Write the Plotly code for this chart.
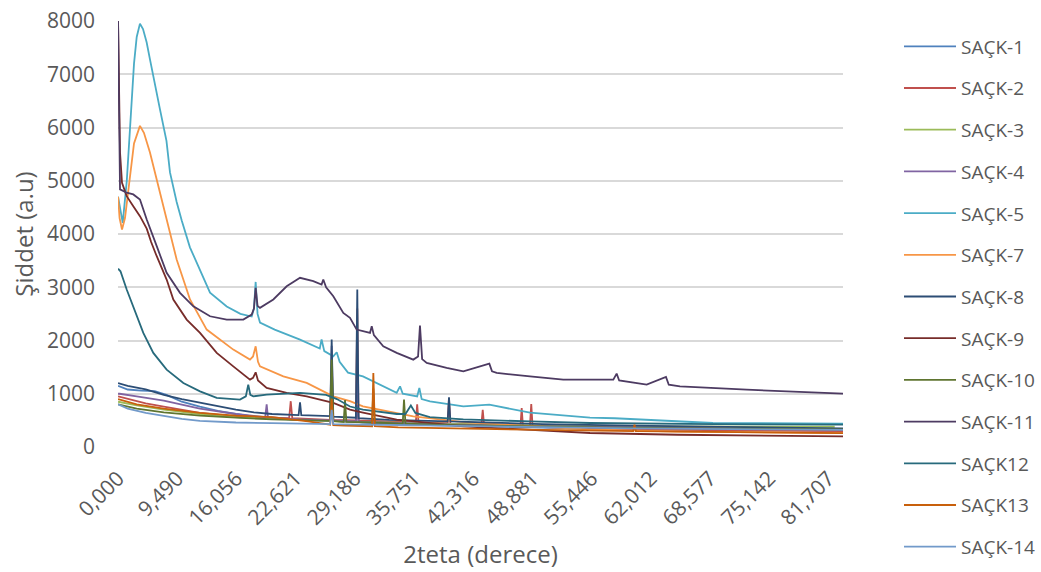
import plotly.graph_objects as go

# 2theta (degrees) / intensity (a.u.) pairs for each sample
sack1_2theta = [2.93, 4.0, 5.5, 7.0, 8.3, 10.0, 12.0, 14.0, 16.0, 18.0, 21.0, 24.0, 26.45, 26.62, 26.8,
                29.3, 29.46, 29.6, 30.0, 35.0, 40.0, 45.0, 50.0, 55.0, 60.0, 70.0, 83.32]
sack1_counts = [1150, 1080, 1060, 1050, 980, 850, 760, 680, 620, 570, 530, 500, 490, 1050, 490,
                470, 850, 470, 460, 420, 400, 380, 360, 345, 335, 320, 310]

sack2_2theta = [2.93, 4.0, 6.0, 8.0, 10.0, 12.0, 15.0, 18.0, 21.9, 22.08, 22.25, 26.45, 26.62, 26.8,
                29.3, 29.46, 29.6, 31.0, 35.95, 36.1, 36.25, 39.48, 39.63, 39.78, 43.22, 43.37, 43.52,
                47.55, 47.69, 47.83, 48.6, 48.75, 48.9, 56.0, 57.4, 65.0, 83.32]
sack2_counts = [950, 900, 820, 760, 700, 640, 590, 560, 540, 860, 540, 510, 1100, 510,
                500, 2600, 500, 490, 460, 800, 460, 450, 920, 440, 420, 700, 410,
                390, 733, 390, 385, 808, 380, 350, 340, 320, 300]

sack3_2theta = [2.93, 5.0, 8.0, 12.0, 16.0, 20.0, 24.0, 26.45, 26.62, 26.8, 30.0, 40.0, 50.0, 60.0, 82.4]
sack3_counts = [850, 780, 700, 620, 560, 530, 500, 490, 1300, 480, 470, 430, 400, 385, 380]

sack4_2theta = [2.93, 3.1, 5.0, 8.0, 12.0, 16.0, 19.25, 19.41, 19.55, 23.0, 26.45, 26.62, 26.8,
                29.3, 29.46, 29.6, 30.0, 35.0, 40.0, 50.0, 60.0, 70.0, 83.32]
sack4_counts = [1000, 1000, 950, 870, 720, 620, 560, 800, 560, 520, 500, 1900, 500,
                480, 1200, 480, 470, 440, 420, 390, 370, 350, 330]

sack5_2theta = [2.93, 3.2, 3.45, 3.9, 4.3, 4.7, 5.0, 5.36, 5.7, 6.1, 6.47, 7.2, 7.58, 8.3, 8.69,
                9.43, 10.0, 10.9, 12.02, 13.13, 14.98, 16.5, 17.75, 18.0, 18.19, 18.4, 18.67, 20.3,
                23.11, 25.3, 25.5, 25.8, 26.8, 27.18, 27.5, 28.43, 30.09, 33.83, 34.2, 34.5, 36.1,
                36.34, 36.6, 37.52, 41.22, 44.1, 48.61, 55.26, 58.0, 68.9, 83.32]
sack5_counts = [4700, 4400, 4210, 5000, 6200, 7200, 7700, 7950, 7850, 7600, 7280, 6700, 6340, 5750, 5157,
                4600, 4250, 3750, 3333, 2900, 2640, 2500, 2450, 2600, 3100, 2500, 2336, 2205,
                2017, 1850, 2020, 1800, 1703, 1780, 1600, 1397, 1327, 1020, 1140, 1000, 950,
                1109, 900, 857, 763, 795, 645, 551, 540, 451, 438]

sack7_2theta = [2.93, 3.1, 3.37, 3.7, 4.2, 4.7, 5.36, 5.8, 6.47, 7.22, 7.9, 8.5, 9.43, 10.91, 12.76,
                15.71, 17.56, 17.9, 18.19, 18.45, 18.67, 21.26, 23.85, 26.8, 28.65, 30.09, 35.67,
                41.0, 48.6, 55.0, 65.0, 83.32]
sack7_counts = [4700, 4300, 4085, 4300, 5000, 5700, 6030, 5900, 5530, 5025, 4587, 4150, 3521, 2770, 2205,
                1829, 1641, 1700, 1891, 1600, 1515, 1327, 1203, 951, 860, 763, 575,
                470, 400, 330, 290, 260]

sack8_2theta = [2.93, 4.0, 6.0, 8.0, 10.0, 12.0, 14.0, 16.0, 18.0, 20.0, 22.95, 23.11, 23.25, 26.45,
                26.62, 26.8, 29.3, 29.46, 29.6, 33.0, 39.48, 39.63, 39.78, 45.0, 50.0, 60.0, 70.0, 83.32]
sack8_counts = [1200, 1150, 1080, 980, 900, 830, 760, 700, 650, 620, 600, 840, 600, 580,
                2017, 570, 550, 2957, 540, 510, 480, 933, 480, 450, 430, 400, 380, 350]

sack9_2theta = [2.93, 3.15, 3.37, 3.89, 4.62, 5.36, 6.11, 6.6, 7.22, 8.32, 9.06, 10.54, 12.02, 13.87,
                15.71, 17.56, 17.9, 18.19, 18.45, 19.41, 21.63, 23.85, 26.8, 28.65, 30.09, 33.83,
                41.22, 55.26, 65.0, 83.32]
sack9_counts = [8000, 5530, 4963, 4711, 4523, 4335, 4100, 3850, 3583, 3145, 2770, 2393, 2143, 1767,
                1515, 1265, 1300, 1402, 1250, 1109, 1015, 951, 827, 701, 645, 513,
                387, 263, 230, 200]

sack10_2theta = [2.93, 5.0, 8.0, 12.0, 16.0, 20.0, 26.45, 26.62, 26.8, 27.95, 28.1, 28.25, 31.1,
                 31.24, 31.4, 34.5, 34.64, 34.8, 40.0, 50.0, 60.0, 83.32]
sack10_counts = [800, 720, 650, 590, 550, 520, 490, 1641, 490, 470, 880, 470, 460,
                 1100, 460, 440, 889, 440, 410, 380, 360, 330]

sack11_2theta = [2.93, 3.15, 3.89, 4.62, 5.36, 6.11, 7.22, 8.32, 9.8, 11.28, 13.13, 14.98, 16.82,
                 17.75, 18.0, 18.19, 18.4, 18.67, 20.15, 21.63, 23.11, 24.58, 25.5, 25.69, 26.0,
                 26.8, 27.91, 28.65, 29.39, 30.87, 31.06, 31.3, 32.34, 33.83, 35.67, 36.2, 36.41,
                 36.65, 37.16, 39.37, 41.22, 44.1, 44.4, 44.92, 48.61, 52.3, 55.26, 57.85, 58.22,
                 58.5, 61.55, 63.69, 64.0, 65.24, 72.64, 80.03, 83.32]
sack11_counts = [8000, 4837, 4775, 4743, 4649, 4273, 3771, 3271, 2895, 2643, 2455, 2393, 2393,
                 2487, 2600, 2989, 2650, 2613, 2770, 3019, 3177, 3113, 3050, 3145, 3000,
                 2831, 2519, 2425, 2205, 2143, 2267, 2100, 1891, 1767, 1641, 1700, 2280,
                 1650, 1579, 1485, 1421, 1566, 1420, 1391, 1327, 1265, 1265, 1265, 1378,
                 1250, 1171, 1316, 1170, 1139, 1077, 1027, 1002]

sack12_2theta = [2.93, 3.2, 3.89, 4.62, 5.73, 6.84, 8.32, 10.17, 12.02, 13.87, 16.45, 17.1, 17.37,
                 17.6, 17.93, 19.41, 23.11, 26.0, 27.2, 28.65, 30.09, 33.83, 34.8, 35.4, 35.9,
                 37.5, 41.22, 48.61, 55.26, 68.9, 83.32]
sack12_counts = [3350, 3300, 2957, 2643, 2143, 1767, 1453, 1203, 1045, 921, 889, 950, 1171,
                 980, 951, 983, 1015, 980, 900, 760, 700, 620, 620, 780, 640,
                 560, 520, 480, 451, 430, 420]

sack13_2theta = [2.93, 5.0, 8.0, 12.0, 16.0, 20.0, 24.0, 26.45, 26.62, 26.8, 28.0, 31.1, 31.24,
                 31.4, 34.0, 40.0, 50.0, 60.05, 60.2, 60.35, 70.0, 83.32]
sack13_counts = [900, 800, 720, 640, 590, 560, 480, 420, 900, 410, 400, 390, 1391,
                 390, 370, 350, 320, 300, 420, 300, 280, 260]

sack14_2theta = [2.93, 4.0, 6.0, 8.0, 10.0, 12.0, 14.0, 16.0, 20.0, 26.45, 26.62, 26.8, 30.0, 40.0,
                 50.0, 60.0, 83.32]
sack14_counts = [800, 720, 640, 580, 530, 490, 470, 460, 450, 430, 700, 430, 420, 400,
                 370, 350, 320]

sample_names = ["SAÇK-1", "SAÇK-2", "SAÇK-3", "SAÇK-4", "SAÇK-5", "SAÇK-7", "SAÇK-8",
                "SAÇK-9", "SAÇK-10", "SAÇK-11", "SAÇK12", "SAÇK13", "SAÇK-14"]

tick_positions = [2.925, 9.490, 16.056, 22.621, 29.186, 35.751, 42.316, 48.881, 55.446,
                  62.012, 68.577, 75.142, 81.707]
tick_labels = ["0,000", "9,490", "16,056", "22,621", "29,186", "35,751", "42,316", "48,881",
               "55,446", "62,012", "68,577", "75,142", "81,707"]

palette = ["#4F81BD", "#C0504D", "#9BBB59", "#8064A2", "#4BACC6", "#F79646", "#2C4D75",
           "#772C2A", "#5F7530", "#4D3B62", "#276A7C", "#C8600C", "#729ACA"]

series = [
    (sack1_2theta, sack1_counts), (sack2_2theta, sack2_counts), (sack3_2theta, sack3_counts),
    (sack4_2theta, sack4_counts), (sack5_2theta, sack5_counts), (sack7_2theta, sack7_counts),
    (sack8_2theta, sack8_counts), (sack9_2theta, sack9_counts), (sack10_2theta, sack10_counts),
    (sack11_2theta, sack11_counts), (sack12_2theta, sack12_counts), (sack13_2theta, sack13_counts),
    (sack14_2theta, sack14_counts),
]

text_color = "#595959"
font_family = "Open Sans, Noto Sans, sans-serif"

fig = go.Figure()
for i, ((xs, ys), name) in enumerate(zip(series, sample_names)):
    fig.add_trace(go.Scatter(
        x=xs, y=ys, mode="lines", name=name, legendgroup=name,
        line=dict(color=palette[i], width=1.8),
    ))

fig.update_layout(
    width=1041, height=572,
    margin=dict(l=118, r=198, t=21, b=125),
    paper_bgcolor="white", plot_bgcolor="white",
    font=dict(family=font_family, color=text_color, size=19),
    legend=dict(
        xref="container", yref="container", x=0.8636, y=0.952,
        xanchor="left", yanchor="top", maxheight=1.0, itemwidth=52,
        font=dict(size=19, color=text_color),
        tracegroupgap=14, bgcolor="rgba(0,0,0,0)",
    ),
    xaxis=dict(
        range=[2.925, 83.32], tickmode="array", tickvals=tick_positions, ticktext=tick_labels,
        tickangle=-45, showgrid=False, zeroline=False, showline=False, ticks="",
        tickfont=dict(size=21, color=text_color), ticklabelstandoff=14, automargin=False,
        title=dict(text="2teta (derece)", font=dict(size=24, color=text_color), standoff=16),
    ),
    yaxis=dict(
        range=[0, 8000], tickvals=[0, 1000, 2000, 3000, 4000, 5000, 6000, 7000, 8000],
        showgrid=True, gridcolor="#D9D9D9", gridwidth=1.5, zeroline=False, showline=False,
        ticks="", tickfont=dict(size=21, color=text_color), ticklabelstandoff=22, automargin=False,
        title=dict(text="Şiddet (a.u)", font=dict(size=24, color=text_color), standoff=6),
    ),
)

fig.write_html("out.html")
